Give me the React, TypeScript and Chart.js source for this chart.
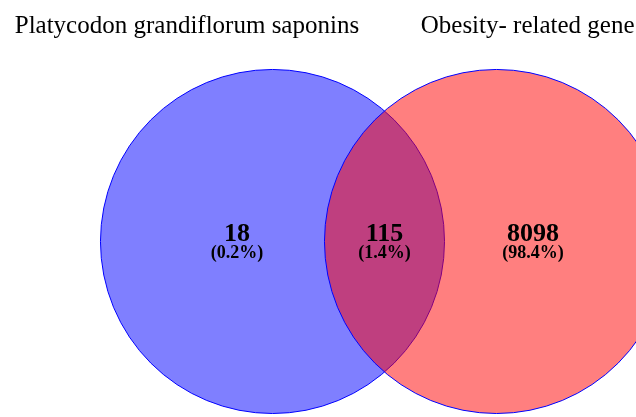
import React, { useEffect, useRef } from "react";
import { Chart, registerables } from "chart.js";

Chart.register(...registerables);

// ---- data ----
const setNames = ["Platycodon grandiflorum saponins", "Obesity- related gene"];
const regionCounts = [18, 115, 8098]; // left only, overlap, right only
const setColors = ["rgba(0,0,255,0.5)", "rgba(255,0,0,0.5)"];

// ---- layout (abstract units, circle centres at 0 and 1) ----
const W = 636;
const H = 417;
const X_MIN = -1.2165;
const X_MAX = 1.6228;
const Y_MIN = -0.7835;
const Y_MAX = 1.0781;
const setCentersX = [0, 1];
const setRadius = 0.768;
const regionX = [-0.158, 0.5, 1.163];
const setLabelX = [-0.382, 1.139];
const setLabelY = 0.931;
const countY = 0.002;
const percentY = -0.074;

const FONT = '"Liberation Serif", "Times New Roman", serif';

const total = regionCounts.reduce((a, b) => a + b, 0);
const radiusPx = (setRadius * W) / (X_MAX - X_MIN);

const vennText = {
  id: "vennText",
  afterDatasetsDraw(chart: any) {
    const { ctx } = chart;
    const x = chart.scales.x;
    const y = chart.scales.y;
    ctx.save();
    ctx.fillStyle = "#000";
    ctx.textAlign = "center";
    ctx.textBaseline = "alphabetic";
    ctx.font = `25px ${FONT}`;
    setNames.forEach((n, i) => {
      ctx.fillText(n, x.getPixelForValue(setLabelX[i]), y.getPixelForValue(setLabelY));
    });
    regionCounts.forEach((c, i) => {
      const px = x.getPixelForValue(regionX[i]);
      ctx.font = `bold 26px ${FONT}`;
      ctx.fillText(String(c), px, y.getPixelForValue(countY));
      ctx.font = `bold 18px ${FONT}`;
      const pct = ((c / total) * 100).toFixed(1);
      ctx.fillText(`(${pct}%)`, px, y.getPixelForValue(percentY));
    });
    ctx.restore();
  },
};

export default function App() {
  const ref = useRef<HTMLCanvasElement | null>(null);
  useEffect(() => {
    if (!ref.current) return;
    const chart = new Chart(ref.current, {
      type: "bubble",
      data: {
        datasets: setNames.map((name, i) => ({
          label: name,
          data: [{ x: setCentersX[i], y: 0 }],
          backgroundColor: setColors[i],
          borderColor: "#0000ff",
          borderWidth: 1,
          radius: radiusPx,
          hoverRadius: 0,
          order: 2 - i,
          clip: false as any,
        })),
      },
      options: {
        animation: false,
        responsive: false,
        devicePixelRatio: 1,
        events: [],
        layout: { padding: 0, autoPadding: false },
        plugins: { legend: { display: false }, tooltip: { enabled: false }, title: { display: false } },
        scales: {
          x: { type: "linear", min: X_MIN, max: X_MAX, display: false },
          y: { type: "linear", min: Y_MIN, max: Y_MAX, display: false },
        },
      },
      plugins: [vennText],
    });
    return () => chart.destroy();
  }, []);
  return (
    <div style={{ position: "fixed", left: 0, top: 0, width: W, height: H, background: "#fff" }}>
      <canvas ref={ref} width={W} height={H} style={{ width: W, height: H, display: "block" }} />
    </div>
  );
}
